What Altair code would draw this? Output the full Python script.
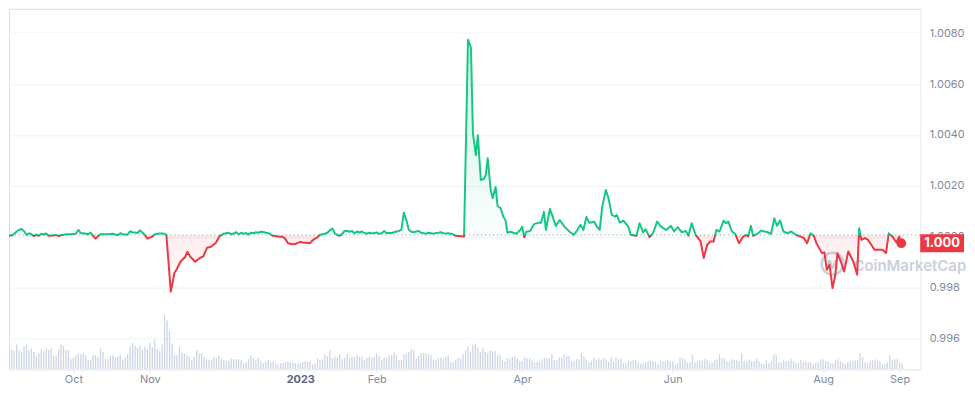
import altair as alt
import pandas as pd

START = pd.Timestamp("2022-09-04")

# ---- price readings (day offset since START, value) ----
days_a = list(range(0, 65))
vals_a = [1.00005, 1.00005, 1.00005, 1.00012, 1.00021, 1.00028, 1.00031, 1.00022, 1.00008, 1.00014,
          1.00010, 1.00003, 1.00009, 1.00004, 1.00012, 1.00009, 1.00013, 1.00004, 1.00005, 1.00005,
          1.00008, 1.00003, 1.00006, 1.00008, 1.00010, 1.00010, 1.00010, 1.00011, 1.00012, 1.00027,
          1.00014, 1.00014, 1.00012, 1.00010, 1.00017, 1.00004, 0.99993, 1.00003, 1.00010, 1.00010,
          1.00010, 1.00010, 1.00011, 1.00012, 1.00009, 1.00007, 1.00014, 1.00010, 1.00009, 1.00009,
          1.00022, 1.00018, 1.00017, 1.00015, 1.00025, 1.00017, 1.00007, 0.99993, 0.99997, 1.00001,
          1.00010, 1.00012, 1.00013, 1.00013, 1.00012]

days_b = [64.7, 66.5, 68.0, 68.8, 70.4, 72.4, 73.2, 74.4, 76.4, 78.4, 79.6, 81.2, 82.8, 84.8, 86.4, 87.5]
vals_b = [1.00008, 0.99785, 0.99859, 0.99871, 0.99902, 0.99922, 0.99941, 0.99922, 0.99902, 0.99918,
          0.99922, 0.99957, 0.99961, 0.99977, 1.00004, 1.00010]

days_c = list(range(88, 185))
vals_c = [1.00012, 1.00014, 1.00016, 1.00010, 1.00013, 1.00018, 1.00010, 1.00016, 1.00012, 1.00015,
          1.00009, 1.00016, 1.00014, 1.00018, 1.00016, 1.00020, 1.00019, 1.00016, 1.00015, 1.00010,
          1.00004, 1.00003, 1.00001, 1.00000, 0.99999, 0.99991, 0.99975, 0.99973, 0.99971, 0.99972,
          0.99976, 0.99980, 0.99978, 0.99977, 0.99976, 0.99975, 0.99986, 0.99993, 0.99998,
          1.00008, 1.00010, 1.00012, 1.00016, 1.00026, 1.00033, 1.00014, 1.00008, 1.00004, 1.00012,
          1.00023, 1.00024, 1.00020, 1.00023, 1.00014, 1.00021, 1.00017, 1.00021, 1.00015, 1.00012,
          1.00016, 1.00014, 1.00015, 1.00017, 1.00012, 1.00014, 1.00023, 1.00014, 1.00016, 1.00014,
          1.00018, 1.00021, 1.00023, 1.00028, 1.00095, 1.00066, 1.00028, 1.00020, 1.00018, 1.00021,
          1.00023, 1.00016, 1.00014, 1.00012, 1.00016, 1.00014, 1.00012, 1.00015, 1.00016, 1.00018,
          1.00014, 1.00013, 1.00014, 1.00012, 1.00010, 1.00004, 1.00003, 1.00002]

days_d = [185.4, 187.0, 188.2, 189.0, 190.2, 191.0, 192.2, 193.4, 194.2, 195.0,
          196.2, 197.0, 198.2, 199.0, 200.2, 201.4, 202.2, 203.0, 204.2, 205.4,
          206.6, 208.2, 209.0, 209.8, 210.6, 212.2, 213.8, 215.4, 216.6, 217.8,
          218.6, 220.2, 221.4, 222.6, 224.2, 226.2, 228.2, 229.8, 230.6, 232.6,
          233.8, 235.0, 236.2, 238.2]
vals_d = [1.00001, 1.00774, 1.00743, 1.00407, 1.00321, 1.00399, 1.00223, 1.00227, 1.00242, 1.00309,
          1.00184, 1.00152, 1.00196, 1.00121, 1.00113, 1.00078, 1.00066, 1.00016, 1.00020, 1.00016,
          1.00012, 1.00027, 1.00039, 0.99998, 1.00020, 1.00023, 1.00050, 1.00055, 1.00055, 1.00098,
          1.00027, 1.00109, 1.00078, 1.00043, 1.00066, 1.00039, 1.00020, 1.00008, 1.00016, 1.00047,
          1.00027, 1.00078, 1.00055, 1.00059]

days_e = [239.3, 240.4, 241.4, 242.9, 244.0, 245.3, 246.7, 247.3, 248.6, 250.0, 252.0,
          253.0, 255.3, 256.6, 258.0, 259.0, 260.6, 262.0, 263.7, 265.3, 267.3,
          269.3, 270.6, 272.0, 273.7, 275.3, 276.4, 277.7, 279.3, 281.3, 282.6,
          284.0, 285.3, 286.6, 287.7, 289.0, 290.6, 291.7, 292.6, 294.0, 295.3,
          296.9, 298.6, 299.9, 300.6, 301.7, 302.6]
vals_e = [1.00040, 1.00027, 1.00117, 1.00184, 1.00151, 1.00086, 1.00079, 1.00086, 1.00056, 1.00064, 1.00040,
          1.00008, 1.00004, 1.00053, 1.00017, 1.00030, 0.99999, 1.00014, 1.00060, 1.00040, 1.00027,
          1.00043, 1.00021, 1.00038, 1.00018, 1.00023, 1.00004, 1.00053, 1.00008, 0.99982, 0.99917,
          0.99969, 0.99982, 0.99982, 1.00027, 1.00021, 1.00063, 1.00053, 1.00060, 1.00021, 1.00012,
          0.99975, 1.00001, 1.00008, 1.00001, 1.00043, 1.00004]

days_f = [304.6, 305.9, 308.5, 309.9, 311.2, 312.3, 313.5, 314.9, 316.5, 318.1,
          319.9, 321.9, 323.2, 324.5, 325.9, 327.2, 328.3, 330.5, 331.5, 332.5,
          333.6, 334.8, 335.9, 336.8, 337.9, 339.5, 341.2, 343.2, 344.8, 345.6,
          346.5, 347.9, 349.2, 350.5, 351.8, 353.2, 355.2, 356.5, 357.6, 359.1,
          360.7, 361.8, 362.7]
vals_f = [1.00014, 1.00025, 1.00018, 1.00012, 1.00073, 1.00043, 1.00064, 1.00021, 1.00014, 1.00021,
          1.00008, 1.00001, 0.99995, 0.99975, 1.00014, 1.00004, 0.99975, 0.99936, 0.99939, 0.99871,
          0.99891, 0.99799, 0.99848, 0.99936, 0.99910, 0.99864, 0.99943, 0.99903, 0.99851, 1.00034,
          0.99988, 0.99995, 0.99988, 0.99969, 0.99949, 0.99949, 0.99949, 0.99936, 1.00014, 1.00001,
          0.99978, 1.00001, 0.99975]

# ---- daily volume (relative units), starting at START ----
volume = [
    140, 217, 193, 183, 250, 193, 173, 233, 250, 193, 210, 173, 133, 160, 200, 183, 217, 193, 210, 140,
    133, 200, 250, 233, 193, 193, 100, 110, 140, 160, 150, 160, 140, 90, 90, 140, 140, 123, 210, 173,
    100, 100, 130, 140, 123, 123, 150, 90, 123, 150, 233, 267, 240, 217, 240, 193, 227, 200, 267, 223,
    300, 200, 183, 250, 550, 490, 390, 260, 140, 140, 227, 167, 160, 140, 127, 93, 123, 190, 160, 160,
    127, 100, 93, 100, 127, 117, 140, 107, 93, 83, 83, 107, 100, 100, 100, 90, 60, 73, 100, 140,
    117, 90, 117, 77, 60, 77, 93, 73, 83, 67, 50, 60, 60, 73, 77, 67, 67, 60, 57, 60,
    73, 83, 73, 77, 50, 60, 107, 93, 100, 150, 133, 190, 107, 127, 117, 150, 100, 117, 150, 117,
    127, 127, 140, 127, 127, 93, 117, 127, 117, 127, 160, 133, 93, 117, 117, 140, 140, 167, 140, 93,
    93, 150, 150, 173, 200, 190, 107, 133, 160, 160, 160, 150, 140, 93, 93, 110, 117, 110, 127, 140,
    73, 73, 93, 117, 107, 150, 190, 227, 173,
    250, 260, 217, 173, 217, 173, 160, 190, 183, 180,
    140, 150, 90, 80, 110, 100, 123, 127, 107, 80,
    80, 120, 110, 110, 90, 73, 73, 83, 100, 110,
    110, 110, 150, 90, 90, 120, 120, 150, 133, 130,
    80, 80, 100, 100, 160, 130, 100, 70, 80, 110,
    90, 110, 90, 110, 100, 73, 120, 80, 120, 100,
    110, 60, 60, 80, 80, 90, 90, 70, 53, 60,
    70, 80, 83, 80, 70, 50, 80, 80, 80, 90,
    80, 80, 53, 60, 120, 110, 100, 70, 70, 140,
    70, 80, 90, 90, 100, 90, 70, 70, 90, 100,
    150, 110, 110, 80, 80, 100, 90, 90, 80, 160,
    80, 80, 100, 80, 80, 110, 80, 50, 53, 90,
    60, 80, 150, 140, 70, 70, 90, 80, 80, 100,
    80, 60, 60, 90, 70, 80, 70, 70, 50, 60,
    70, 100, 100, 80, 80, 60, 60, 90, 100, 80,
    70, 53, 70, 80, 80, 90, 90, 160, 120, 70,
    60, 80, 90, 100, 80, 80, 50, 50, 70, 140,
    90, 100, 100, 70, 60]

BASE = 1.00007  # dotted reference line (opening price)

x_ticks = [(2022, 10), (2022, 11), (2023, 1), (2023, 2), (2023, 4), (2023, 6), (2023, 8), (2023, 9)]
x_labels = ["Oct", "Nov", "2023", "Feb", "Apr", "Jun", "Aug", "Sep"]
y_ticks = [0.996, 0.998, 1.000, 1.002, 1.004, 1.006, 1.008]
y_labels = ["0.996", "0.998", "1.0000", "1.0020", "1.0040", "1.0060", "1.0080"]

GREEN = "#16c784"
RED = "#ea3943"
LABEL = "#808a9d"
GRID = "#eff2f5"

price_days = days_a + days_b + days_c + days_d + days_e + days_f
price_vals = vals_a + vals_b + vals_c + vals_d + vals_e + vals_f

price_df = pd.DataFrame({
    "date": START + pd.to_timedelta(price_days, unit="D"),
    "price": price_vals,
})
price_df["base"] = BASE
vol_df = pd.DataFrame({
    "date": START + pd.to_timedelta(list(range(len(volume))), unit="D"),
    "vol": volume,
})
last_df = price_df.tail(1).copy()
last_df["label"] = f"{price_vals[-1]:.3f}"
base_df = pd.DataFrame({"base": [BASE]})

hi, lo = max(price_vals), min(price_vals)
f = (hi - BASE) / (hi - lo)

# plot area starts 8px into the picture (page margin), so the visible window starts a few days in
W, H = 915, 362

x_scale = alt.Scale(domain=[alt.DateTime(year=2022, month=9, date=6, hours=22),
                            alt.DateTime(year=2023, month=9, date=7, hours=8)], nice=False)
y_scale = alt.Scale(domain=[0.994800, 1.008954], nice=False, zero=False)

x_expr = " : ".join(
    f"(year(datum.value)=={y} && month(datum.value)=={m - 1}) ? '{lab}'"
    for (y, m), lab in zip(x_ticks, x_labels)) + " : ''"
y_expr = " : ".join(
    f"abs(datum.value - {v}) < 0.00001 ? '{lab}'" for v, lab in zip(y_ticks, y_labels)) + " : ''"

x_axis = alt.Axis(
    values=[alt.DateTime(year=y, month=m, date=1) for y, m in x_ticks],
    labelExpr=x_expr, title=None, grid=False,
    domainColor=GRID, tickColor="#e3e6eb", tickSize=3,
    labelFontSize=11, labelPadding=1, labelFont="Inter",
    labelColor={"condition": {"test": "month(datum.value)==0", "value": "#58667e"}, "value": LABEL},
    labelFontWeight={"condition": {"test": "month(datum.value)==0", "value": "bold"}, "value": "normal"},
)
y_axis = alt.Axis(
    orient="right", values=y_ticks, labelExpr=y_expr, title=None,
    grid=True, gridColor=GRID, domainColor=GRID, ticks=False,
    labelPadding=9, labelFontSize=11, labelColor=LABEL, labelFont="Inter",
)

X = alt.X("date:T", scale=x_scale, axis=x_axis)
Y = alt.Y("price:Q", scale=y_scale, axis=y_axis)

bars = alt.Chart(vol_df).mark_bar(size=1.3, color="#cdd5e4", clip=True).encode(
    x=X,
    y=alt.Y("vol:Q", scale=alt.Scale(domain=[0, 3620]), axis=None),
)

line_grad = alt.LinearGradient(
    gradient="linear", x1=0, x2=0, y1=0, y2=1,
    stops=[alt.GradientStop(color=GREEN, offset=0), alt.GradientStop(color=GREEN, offset=f),
           alt.GradientStop(color=RED, offset=f), alt.GradientStop(color=RED, offset=1)])
area_grad = alt.LinearGradient(
    gradient="linear", x1=0, x2=0, y1=0, y2=1,
    stops=[alt.GradientStop(color="rgba(22,199,132,0.22)", offset=0),
           alt.GradientStop(color="rgba(22,199,132,0.02)", offset=f),
           alt.GradientStop(color="rgba(234,57,67,0.10)", offset=f),
           alt.GradientStop(color="rgba(234,57,67,0.0)", offset=1)])

area = alt.Chart(price_df).mark_area(fill=area_grad, opacity=1, clip=True).encode(
    x=X, y=Y, y2=alt.Y2("base:Q"))
rule = alt.Chart(base_df).mark_rule(strokeDash=[1, 3], color="#8f96a3", strokeWidth=1).encode(
    y=alt.Y("base:Q", scale=y_scale, axis=y_axis))
line = alt.Chart(price_df).mark_line(stroke=line_grad, strokeWidth=2, clip=True, strokeJoin="round").encode(
    x=X, y=Y)
dot = alt.Chart(last_df).mark_circle(size=95, color=RED, opacity=1).encode(x=X, y=Y)

box_shape = "M-1,-0.409L1,-0.409L1,0.409L-1,0.409Z"
box = alt.Chart(last_df).mark_point(shape=box_shape, size=44 * 44, filled=True, color=RED,
                                    opacity=1, strokeWidth=0).encode(
    x=alt.value(W + 22), y=Y)
box_text = alt.Chart(last_df).mark_text(color="white", fontWeight="bold", fontSize=13,
                                        font="Inter").encode(
    x=alt.value(W + 22), y=Y, text="label:N")

wm_df = pd.DataFrame({"t": ["CoinMarketCap"], "m": ["M"]})
wm_logo = alt.Chart(wm_df).mark_point(shape="circle", size=480, color="#cad0dc", strokeWidth=2.5,
                                      filled=False, opacity=1).encode(
    x=alt.value(827), y=alt.value(256))
wm_m = alt.Chart(wm_df).mark_text(fontSize=12, fontWeight="bold", color="#cad0dc", font="Inter").encode(
    x=alt.value(827), y=alt.value(257), text="m:N")
wm_text = alt.Chart(wm_df).mark_text(fontSize=15, fontWeight=600, color="#cad0dc", font="Inter",
                                     align="left").encode(
    x=alt.value(848), y=alt.value(258), text="t:N")

price_layer = alt.layer(area, rule, line, dot, box, box_text)

chart = alt.layer(bars, wm_logo, wm_m, wm_text, price_layer).resolve_scale(y="independent").properties(
    width=W, height=H, padding=0
).configure_view(stroke=None).configure(font="Inter")

chart.save("out.html", embed_options={"renderer": "svg", "actions": False})
